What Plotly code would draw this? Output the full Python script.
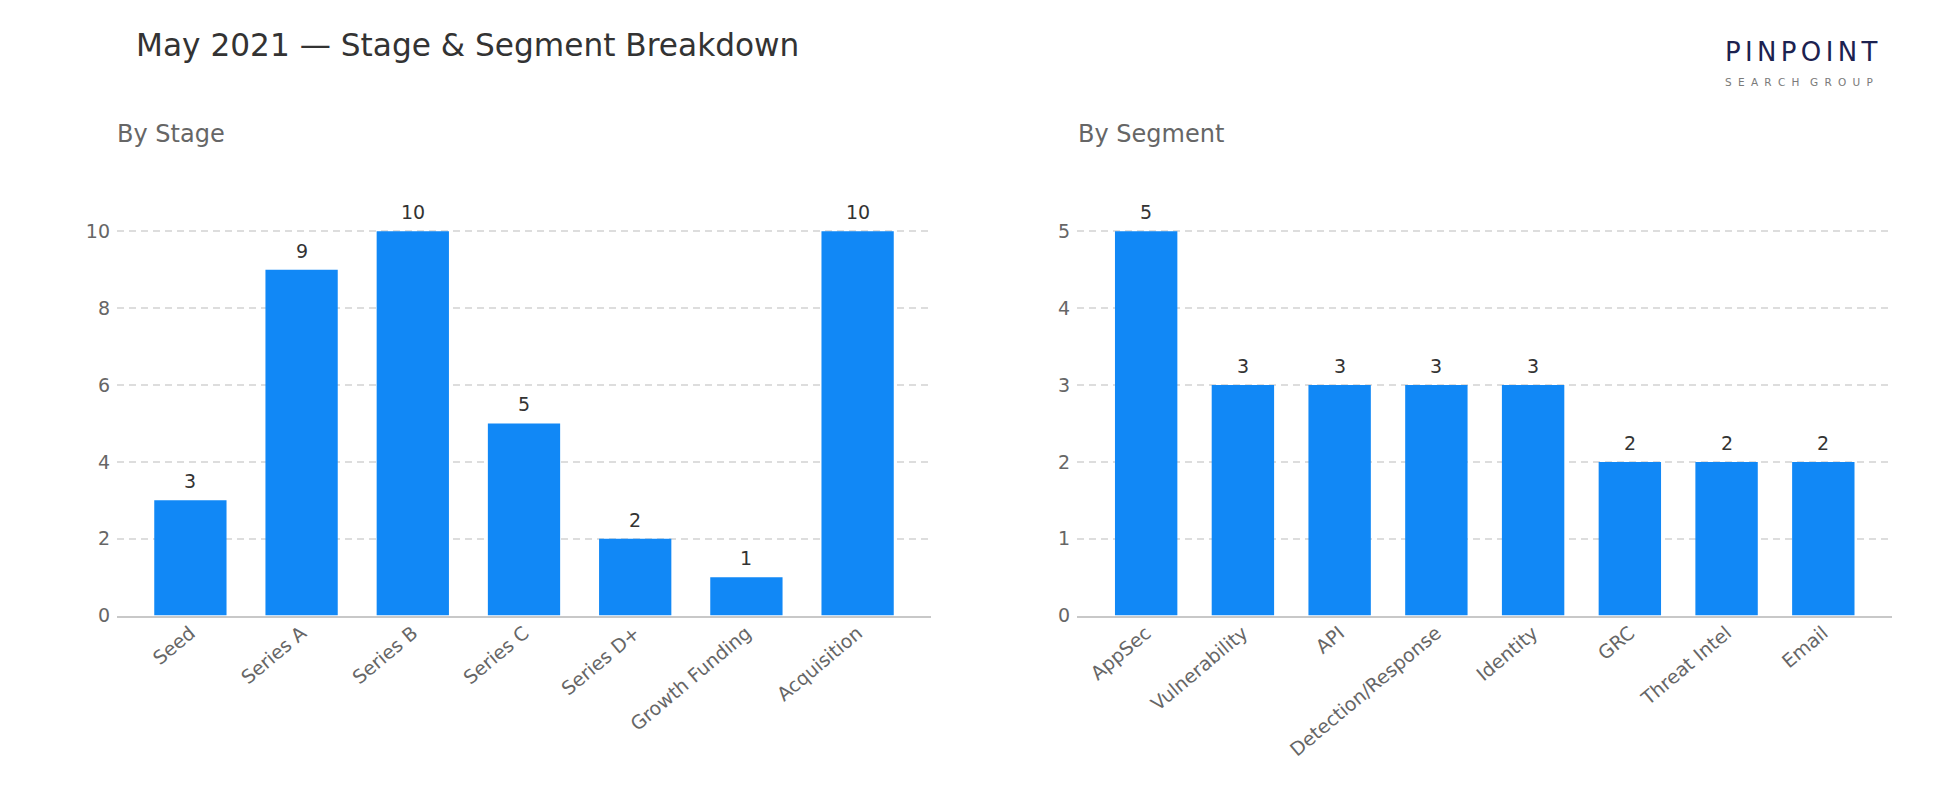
import plotly.graph_objects as go

# ---- data ----
stage_categories = ["Seed", "Series A", "Series B", "Series C", "Series D+", "Growth Funding", "Acquisition"]
stage_values = [3, 9, 10, 5, 2, 1, 10]

segment_categories = ["AppSec", "Vulnerability", "API", "Detection/Response", "Identity", "GRC", "Threat Intel", "Email"]
segment_values = [5, 3, 3, 3, 3, 2, 2, 2]

title_text = "May 2021 \u2014 Stage & Segment Breakdown"
left_title = "By Stage"
right_title = "By Segment"
logo_main = "PINPOINT"
logo_sub_words = ["SEARCH", "GROUP"]

W, H = 1950, 810
BAR = "#1188F6"
FONT = "DejaVu Sans"

fig = go.Figure()
fig.add_trace(go.Bar(
    x=stage_categories, y=stage_values, xaxis="x", yaxis="y",
    marker=dict(color=BAR, line=dict(width=0)),
    cliponaxis=False, width=0.65, hoverinfo="x+y", showlegend=False,
))
fig.add_trace(go.Bar(
    x=segment_categories, y=segment_values, xaxis="x2", yaxis="y2",
    marker=dict(color=BAR, line=dict(width=0)),
    cliponaxis=False, width=0.645, hoverinfo="x+y", showlegend=False,
))

ydom = [(H - 615.6) / H, (H - 192.9) / H]

common_x = dict(
    showgrid=False, showline=True, linecolor="#c8c8c8", linewidth=2,
    tickangle=-40, tickfont=dict(family=FONT, size=19, color="#666666"),
    ticks="", automargin=False, zeroline=False, fixedrange=True,
    ticklabelstandoff=-3,
)
common_y = dict(
    showgrid=True, gridcolor="#dddddd", gridwidth=1.5, griddash="7px,5px",
    zeroline=False, showline=False, ticks="", ticklabelstandoff=6,
    tickfont=dict(family=FONT, size=19, color="#666666"),
    automargin=False, fixedrange=True,
)

value_labels = []
for cats, vals, xr, yr in ((stage_categories, stage_values, "x", "y"),
                           (segment_categories, segment_values, "x2", "y2")):
    for c, v in zip(cats, vals):
        value_labels.append(dict(
            text=str(v), x=c, y=v, xref=xr, yref=yr, xanchor="center",
            yanchor="middle", yshift=19, showarrow=False,
            font=dict(family=FONT, size=19, color="#333333")))

fig.update_layout(
    width=W, height=H, autosize=False,
    margin=dict(l=0, r=0, t=0, b=0),
    paper_bgcolor="white", plot_bgcolor="white",
    font=dict(family=FONT, color="#333333"),
    bargap=0.35,
    xaxis=dict(domain=[117 / W, 931 / W], anchor="y", range=[-0.66, 6.66], **common_x),
    yaxis=dict(domain=ydom, anchor="x", range=[0, 11], dtick=2, **common_y),
    xaxis2=dict(domain=[1077 / W, 1892 / W], anchor="y2", range=[-0.715, 7.71], **common_x),
    yaxis2=dict(domain=ydom, anchor="x2", range=[0, 5.5], dtick=1, **common_y),
    annotations=value_labels + [
        dict(text=title_text, xref="paper", yref="paper", x=134 / W, y=1 - 45 / H,
             xanchor="left", yanchor="middle", showarrow=False,
             font=dict(family=FONT, size=31.2, color="#333333")),
        dict(text=left_title, xref="paper", yref="paper", x=115 / W, y=1 - 134 / H,
             xanchor="left", yanchor="middle", showarrow=False,
             font=dict(family=FONT, size=24, color="#666666")),
        dict(text=right_title, xref="paper", yref="paper", x=1076 / W, y=1 - 134 / H,
             xanchor="left", yanchor="middle", showarrow=False,
             font=dict(family=FONT, size=24, color="#666666")),
        dict(text="\u2006".join(logo_main),
             xref="paper", yref="paper", x=1801 / W, y=1 - 52 / H,
             xanchor="center", yanchor="middle", showarrow=False,
             font=dict(family=FONT, size=26, color="#1c2250")),
        dict(text="\u2002\u2002".join("\u2002\u200a".join(w) for w in logo_sub_words),
             xref="paper", yref="paper", x=1799 / W, y=1 - 82 / H,
             xanchor="center", yanchor="middle", showarrow=False,
             font=dict(family=FONT, size=10.5, color="#7a7a7a")),
    ],
)

fig.write_html("out.html")
